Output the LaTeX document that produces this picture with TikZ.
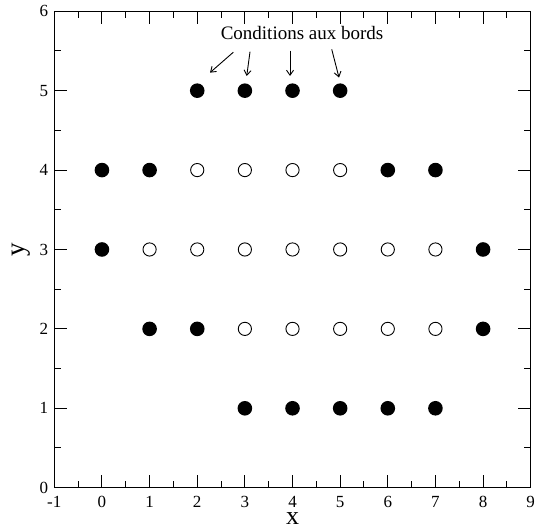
\documentclass[tikz,border=0pt]{standalone}
\usepackage{fontspec}
\setmainfont{Liberation Serif}
\usetikzlibrary{arrows.meta}

\begin{document}
\begin{tikzpicture}[x=47.64pt, y=79.4pt,
  full/.style={circle, fill=black, inner sep=0pt, minimum size=14.6pt},
  hollow/.style={circle, draw=black, line width=0.9pt, fill=white, inner sep=0pt, minimum size=13.2pt},
  arr/.style={-{Straight Barb[length=5pt,width=7pt]}, line width=0.9pt},
  tick/.style={line width=1pt},
  ticklbl/.style={font=\fontsize{17}{17}\selectfont, inner sep=0pt}]
  \useasboundingbox (-2.140,-0.520) rectangle (9.111,6.142);
  % frame
  \draw[line width=1.2pt] (-1,0) rectangle (9,6);
  % x ticks
  \foreach \i in {-1,...,9} {
    \draw[tick] (\i,0) -- ++(0,13pt);
    \draw[tick] (\i,6) -- ++(0,-13pt);
    \node[ticklbl, anchor=north] (xl\i) at ([yshift=-8pt]\i,0) {\i};
  }
  \foreach \i in {-0.5,0.5,...,8.5} {
    \draw[tick] (\i,0) -- ++(0,7pt);
    \draw[tick] (\i,6) -- ++(0,-7pt);
  }
  % y ticks
  \foreach \j in {0,...,6} {
    \draw[tick] (-1,\j) -- ++(13pt,0);
    \draw[tick] (9,\j) -- ++(-13pt,0);
    \node[ticklbl, anchor=east] (yl\j) at ([xshift=-6pt]-1,\j) {\j};
  }
  \foreach \j in {0.5,1.5,...,5.5} {
    \draw[tick] (-1,\j) -- ++(7pt,0);
    \draw[tick] (9,\j) -- ++(-7pt,0);
  }
  % axis labels
  \node[font=\fontsize{26}{26}\selectfont, anchor=base, inner sep=0pt] (xlab) at (4,-0.46) {x};
  \node[font=\fontsize{27}{27}\selectfont, rotate=90, inner sep=0pt] (ylab) at (-1.7,3) {y};
  % points
  \foreach \px/\py in {2/5,3/5,4/5,5/5, 0/4,1/4,6/4,7/4, 0/3,8/3, 1/2,2/2,8/2, 3/1,4/1,5/1,6/1,7/1}
    \node[full] (f-\px-\py) at (\px,\py) {};
  \foreach \px/\py in {2/4,3/4,4/4,5/4, 1/3,2/3,3/3,4/3,5/3,6/3,7/3, 3/2,4/2,5/2,6/2,7/2}
    \node[hollow] (o-\px-\py) at (\px,\py) {};
  % boundary label
  \node[font=\fontsize{19}{19}\selectfont, anchor=base, inner sep=0pt] (cond) at (4.2,5.65) {Conditions aux bords};
  \coordinate (t1) at (2.757,5.484); \coordinate (h1) at (2.268,5.227);
  \coordinate (t2) at (3.108,5.491); \coordinate (h2) at (3.039,5.185);
  \coordinate (t3) at (3.948,5.504); \coordinate (h3) at (3.948,5.185);
  \coordinate (t4) at (4.823,5.521); \coordinate (h4) at (4.976,5.165);
  \foreach \n in {1,...,4}
    \draw[arr] (t\n) -- (h\n);
\end{tikzpicture}
\end{document}
